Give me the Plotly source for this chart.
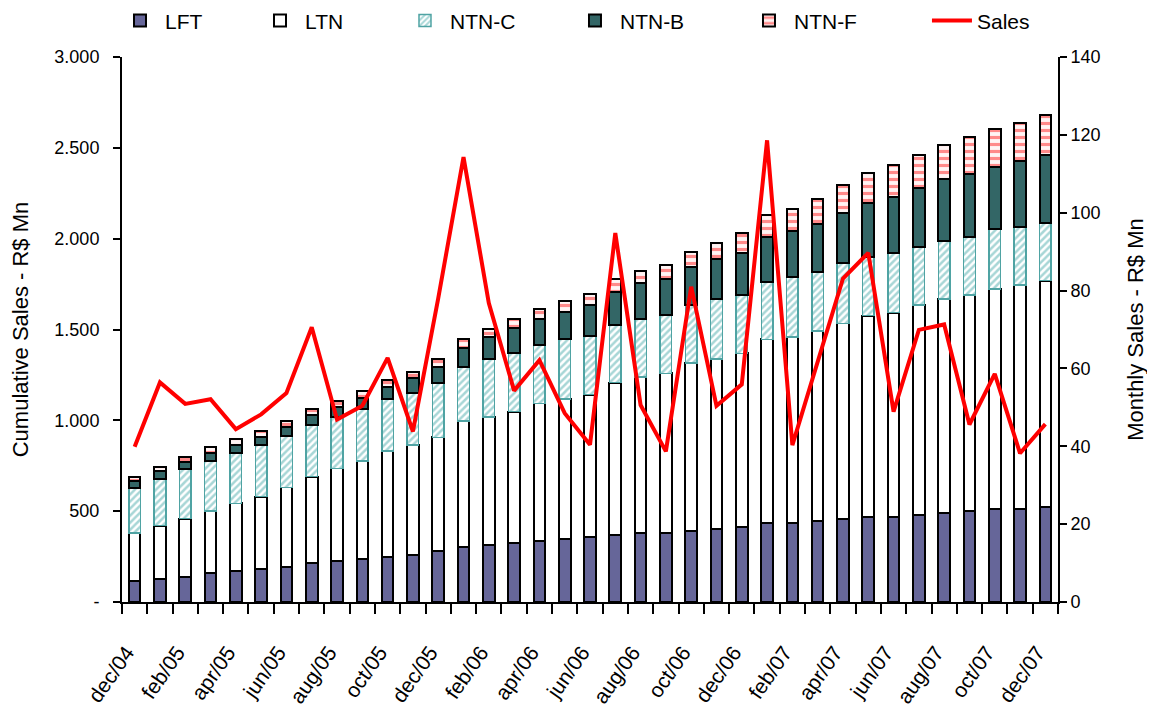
import plotly.graph_objects as go

months = ["dec/04",
          "jan/05", "feb/05", "mar/05", "apr/05", "may/05", "jun/05", "jul/05", "aug/05", "sep/05", "oct/05", "nov/05", "dec/05",
          "jan/06", "feb/06", "mar/06", "apr/06", "may/06", "jun/06", "jul/06", "aug/06", "sep/06", "oct/06", "nov/06", "dec/06",
          "jan/07", "feb/07", "mar/07", "apr/07", "may/07", "jun/07", "jul/07", "aug/07", "sep/07", "oct/07", "nov/07", "dec/07"]

lft = [116, 127, 139, 161, 172, 182, 193, 216, 226, 238, 250, 261, 281, 303, 314, 325, 338, 347, 360,
       371, 380, 380, 391, 400, 411, 433, 433, 444, 455, 468, 468, 477, 488, 501, 510, 514, 523]
ltn = [264, 293, 320, 340, 371, 398, 438, 474, 510, 538, 581, 603, 625, 692, 704, 723, 756, 770, 781,
       836, 859, 879, 926, 939, 958, 1013, 1027, 1049, 1079, 1108, 1125, 1158, 1180, 1189, 1213, 1231, 1246]
ntn_c = [249, 257, 271, 277, 275, 284, 285, 284, 284, 286, 288, 288, 297, 297, 318, 321, 321, 329, 323,
         316, 317, 321, 318, 329, 319, 317, 327, 325, 330, 321, 326, 321, 317, 321, 328, 317, 315]
ntn_b = [37, 46, 39, 42, 48, 42, 50, 55, 55, 63, 66, 83, 92, 104, 124, 138, 143, 150, 171,
         185, 198, 198, 207, 218, 231, 248, 255, 263, 275, 297, 312, 323, 343, 343, 345, 367, 377]
ntn_f = [22, 20, 29, 33, 31, 37, 32, 35, 33, 36, 37, 30, 44, 52, 43, 51, 57, 61, 59,
         70, 68, 77, 86, 89, 114, 119, 121, 137, 156, 169, 174, 182, 188, 207, 208, 209, 220]
sales = [39.9, 56.4, 50.9, 52.1, 44.4, 48.2, 53.7, 70.6, 46.9, 50.4, 62.7, 43.8, 78.0, 114.3, 76.8, 54.3,
         62.1, 48.5, 40.4, 94.8, 50.6, 38.7, 81.0, 50.4, 55.9, 118.6, 40.3, 61.4, 83.1, 89.7, 48.9, 69.9,
         71.3, 45.6, 58.6, 38.2, 45.7]

left_ticks = [0, 500, 1000, 1500, 2000, 2500, 3000]
left_labels = ["-", "500", "1.000", "1.500", "2.000", "2.500", "3.000"]
right_ticks = [0, 20, 40, 60, 80, 100, 120, 140]

FONT = "Liberation Sans, Arial, sans-serif"
outline = dict(color="black", width=2)
bw = 0.46

fig = go.Figure()
fig.add_trace(go.Bar(x=months, y=lft, name="LFT", width=bw, legend="legend", showlegend=True,
                     marker=dict(color="#666699", line=outline)))
fig.add_trace(go.Bar(x=months, y=ltn, name="LTN", width=bw, legend="legend2", showlegend=True,
                     marker=dict(color="white", line=outline)))
fig.add_trace(go.Bar(x=months, y=ntn_c, name="NTN-C", width=bw, legend="legend3", showlegend=True,
                     marker=dict(color="white", line=dict(color="#4fa3a3", width=1.5),
                                 pattern=dict(shape="/", fgcolor="#4fadad", bgcolor="white",
                                              size=5, solidity=0.5))))
fig.add_trace(go.Bar(x=months, y=ntn_b, name="NTN-B", width=bw, legend="legend4", showlegend=True,
                     marker=dict(color="#336666", line=outline)))
fig.add_trace(go.Bar(x=months, y=ntn_f, name="NTN-F", width=bw, legend="legend5", showlegend=True,
                     marker=dict(color="white", line=outline,
                                 pattern=dict(shape="-", fgcolor="#ff2020", bgcolor="#fff4f4",
                                              size=7, solidity=0.45))))
fig.add_trace(go.Scatter(x=months, y=sales, name="Sales", mode="lines", yaxis="y2", legend="legend6",
                         showlegend=True, line=dict(color="#ff0000", width=4)))

def leg(x):
    return dict(orientation="h", x=x, xanchor="left", y=1.104, yanchor="top",
                font=dict(size=21, family=FONT), bgcolor="rgba(0,0,0,0)", itemwidth=40)

fig.update_layout(
    width=1155, height=711,
    barmode="stack",
    showlegend=True,
    plot_bgcolor="white", paper_bgcolor="white",
    font=dict(family=FONT, color="black", size=18),
    margin=dict(l=114, r=105, t=49, b=117, autoexpand=False),
    legend=leg(-0.0075),
    legend2=leg(0.1421),
    legend3=leg(0.2970),
    legend4=leg(0.4786),
    legend5=leg(0.6645),
    legend6=leg(0.8600),
    xaxis=dict(type="category", range=[-0.5, 36.5], automargin=False,
               tickmode="array", tickvals=months,
               ticktext=[m if i % 2 == 0 else "" for i, m in enumerate(months)],
               tickson="boundaries", ticks="outside", ticklen=10, tickwidth=1.5, tickcolor="black",
               tickangle=-55, tickfont=dict(size=21, family=FONT),
               ticklabelstandoff=28, ticklabelshift=-8,
               showline=True, linecolor="black", linewidth=2, showgrid=False, zeroline=False),
    yaxis=dict(range=[0, 3000], tickmode="array", tickvals=left_ticks, ticktext=left_labels,
               automargin=False,
               ticks="outside", ticklen=7, tickwidth=1.5, tickcolor="black",
               tickfont=dict(size=18, family=FONT), ticklabelstandoff=10,
               showline=True, linecolor="black", linewidth=2, showgrid=False, zeroline=False,
               title=dict(text="Cumulative Sales - R$ Mn", font=dict(size=22, family=FONT), standoff=26)),
    yaxis2=dict(range=[0, 140], overlaying="y", side="right", tickmode="array", tickvals=right_ticks,
                automargin=False,
                ticks="outside", ticklen=7, tickwidth=1.5, tickcolor="black",
                tickfont=dict(size=18, family=FONT),
                showline=True, linecolor="black", linewidth=2, showgrid=False, zeroline=False,
                title=dict(text="Monthly Sales - R$ Mn", font=dict(size=22, family=FONT), standoff=28)),
)

fig.write_html("out.html")
